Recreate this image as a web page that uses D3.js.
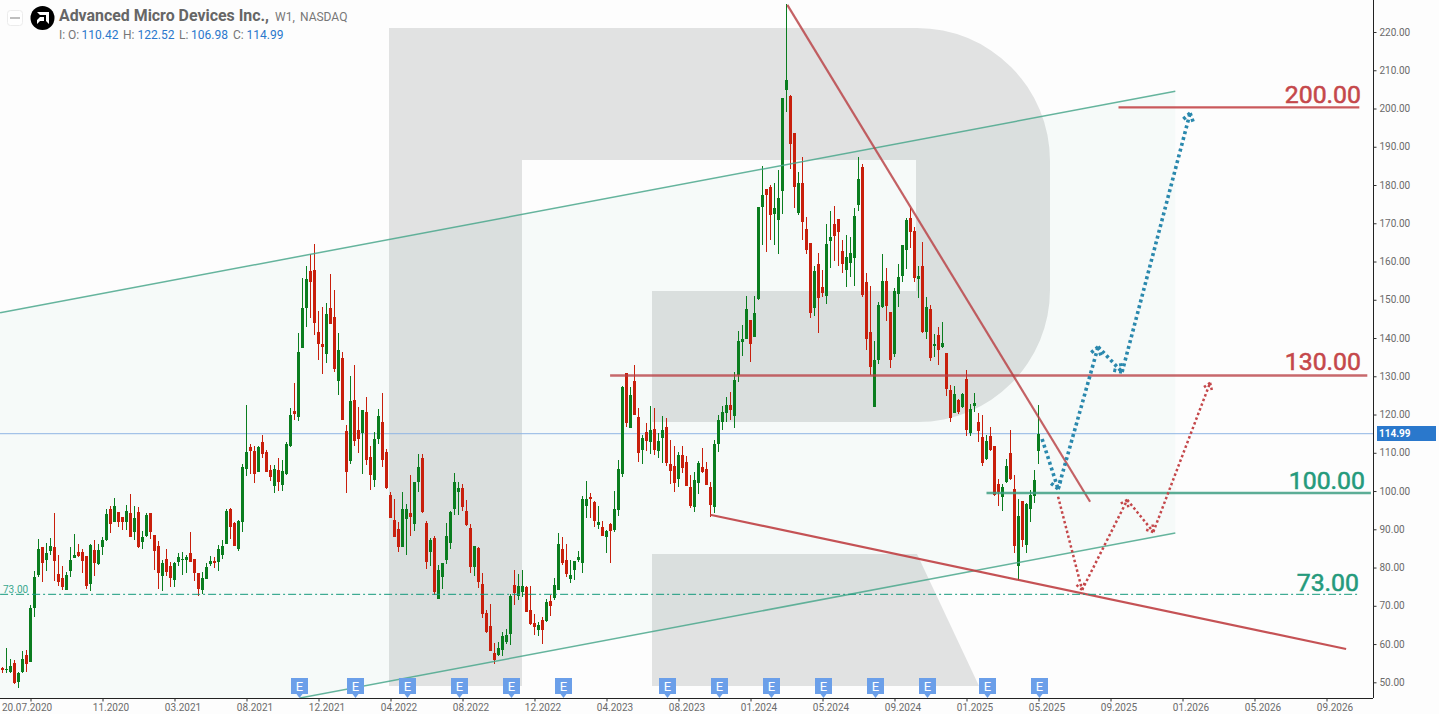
<!DOCTYPE html>
<html><head><meta charset="utf-8">
<script src="https://cdnjs.cloudflare.com/ajax/libs/d3/7.8.5/d3.min.js"></script>
<style>
html,body{margin:0;padding:0;background:#fdfdfd;overflow:hidden}
svg{display:block;font-family:Roboto,"Liberation Sans",sans-serif}
</style></head><body><div id="chart"></div>
<script>
// Weekly OHLC, AMD, one value per candle
const opens=[53.8,53.4,52.6,55.0,50.2,52.7,57.2,55.2,69.3,78.1,
85.4,82.0,84.4,85.4,78.3,77.3,74.2,79.0,82.6,84.1,
84.1,83.0,75.8,84.6,81.0,85.5,87.2,95.2,92.0,94.5,
93.1,92.0,94.3,89.3,94.6,86.7,88.3,94.3,88.6,85.7,
77.8,82.3,80.5,76.8,81.5,82.1,82.0,83.9,82.3,78.6,
74.2,77.1,81.0,81.8,81.5,83.3,86.2,95.4,91.7,84.9,
92.0,105.8,111.6,110.5,105.0,112.9,110.2,105.5,101.4,105.5,
101.6,104.5,111.8,121.0,119.4,137.4,147.9,157.6,157.8,141.6,
138.5,135.9,147.9,145.5,128.8,134.8,115.7,107.9,123.8,116.0,
115.2,120.7,108.9,102.9,113.7,118.1,110.2,99.0,92.5,90.1,
85.4,92.7,94.3,91.4,102.4,108.7,91.7,84.1,87.7,71.8,
77.6,82.0,86.5,95.4,99.8,100.8,94.8,90.4,80.2,85.2,
75.8,68.2,64.8,57.7,57.2,58.5,60.6,62.7,75.5,72.6,
73.7,75.0,69.0,65.6,63.7,66.3,66.1,71.3,72.1,74.2,
84.9,82.0,77.1,79.4,82.0,81.2,96.1,98.5,97.2,91.2,
90.6,88.0,91.4,89.9,95.1,104.5,130.9,116.5,128.8,119.4,
110.8,115.5,112.9,116.3,110.5,113.9,116.8,107.1,106.6,103.2,
109.5,107.6,101.1,95.9,102.1,106.3,105.8,101.1,95.9,112.3,
118.1,120.4,122.5,119.7,130.4,139.0,139.8,144.8,140.3,150.3,
174.3,179.0,179.5,172.5,170.9,178.5,204.9,203.3,193.6,172.7,
180.6,168.5,164.9,147.9,159.4,153.4,151.0,165.4,169.9,171.2,
162.8,157.8,159.7,161.0,174.8,184.7,154.7,141.6,122.0,134.3,
148.2,155.0,146.9,135.9,151.6,156.3,163.1,171.4,168.0,155.5,
158.9,141.6,147.6,138.0,140.9,137.7,136.1,126.4,120.4,123.8,
122.0,129.3,115.2,122.3,118.1,114.2,108.4,114.4,111.8,101.9,
98.5,102.4,110.0,100.6,80.5,97.4,85.9,95.3,98.7,110.42];
const highs=[54.1,58.9,56.0,55.7,52.8,58.2,58.5,70.1,79.1,87.5,
85.4,86.4,87.7,94.3,83.2,80.4,78.9,85.4,88.8,86.2,
84.8,83.0,86.2,87.1,86.2,87.9,95.4,96.0,98.2,94.5,
93.1,96.3,99.2,96.1,95.9,89.5,94.3,94.3,88.6,87.0,
82.0,84.9,81.5,81.5,83.9,84.1,83.3,89.3,82.3,78.6,
78.9,81.2,83.1,82.8,85.9,87.3,95.4,95.6,92.0,92.5,
107.1,122.5,112.3,111.8,111.8,114.7,110.8,106.8,106.8,108.7,
108.2,112.9,121.7,128.3,141.4,155.7,158.9,162.0,164.6,147.1,
148.1,149.2,156.8,152.6,141.4,136.4,117.3,130.1,133.0,122.0,
121.2,124.6,111.8,115.5,121.5,125.7,111.0,99.8,97.9,91.9,
99.8,96.6,104.2,102.4,109.7,109.7,92.2,87.7,88.3,80.7,
81.2,91.7,94.8,104.8,102.4,101.9,97.7,91.4,85.7,85.4,
78.6,69.0,70.5,60.3,60.6,63.2,64.0,73.1,79.4,78.4,
79.4,75.2,75.2,67.9,65.8,67.1,71.8,72.9,77.3,89.1,
88.0,86.2,82.0,81.8,84.4,98.7,102.7,99.5,97.4,96.1,
92.2,89.9,91.7,100.1,108.2,127.5,130.9,127.2,133.0,121.7,
114.7,117.8,122.3,121.7,115.2,119.7,119.1,113.4,111.8,110.2,
111.8,109.2,104.2,105.0,107.9,111.3,107.6,102.4,113.4,119.9,
122.3,124.6,125.9,131.1,141.9,143.5,151.0,144.8,151.0,174.3,
185.0,179.0,180.0,180.6,184.0,202.8,227.3,203.6,193.6,183.4,
187.4,171.7,164.9,158.9,162.3,157.8,169.9,173.3,174.6,171.2,
165.7,167.0,166.5,174.0,187.4,185.5,157.0,153.7,139.3,149.5,
162.0,158.4,146.9,153.1,159.4,164.4,171.4,174.0,169.1,158.9,
165.2,150.8,148.7,141.1,142.9,144.2,136.1,127.7,127.5,124.1,
125.7,131.7,122.8,125.7,120.4,119.9,114.7,116.8,111.8,103.2,
101.9,108.4,116.0,104.2,98.0,97.4,96.9,100.3,105.5,122.52];
const lows=[52.4,52.4,52.4,49.6,48.6,52.4,52.6,55.2,67.2,77.4,
76.3,79.2,83.3,76.5,75.2,74.0,74.0,77.6,82.6,82.7,
78.7,74.4,73.9,77.8,80.6,83.4,87.0,89.1,91.8,90.7,
89.7,89.7,88.1,87.3,85.2,84.9,88.0,87.5,79.4,74.4,
73.9,77.8,75.0,75.0,80.5,78.1,78.6,81.5,76.5,72.6,
73.1,77.1,80.5,79.9,79.2,82.3,86.2,87.5,85.7,84.4,
89.3,104.0,104.5,102.1,105.0,108.7,105.0,102.7,99.5,100.1,
100.1,104.2,111.6,118.6,118.4,137.4,142.9,145.3,140.8,134.3,
130.6,133.5,143.7,131.2,125.2,118.6,99.5,107.1,111.8,110.0,
104.5,106.9,100.3,101.1,112.3,106.3,100.6,93.0,88.0,84.1,
85.4,83.3,88.3,89.6,99.8,94.3,79.6,80.4,72.9,71.8,
74.4,81.0,84.9,93.8,93.8,94.8,90.9,78.6,77.8,74.7,
66.9,63.0,58.2,54.9,56.9,56.9,60.1,59.8,70.3,71.6,
72.4,68.4,65.0,62.4,62.2,60.1,65.8,67.4,71.6,74.2,
80.7,77.6,76.0,76.8,81.5,78.6,93.0,93.0,90.6,90.1,
88.3,83.9,81.2,89.3,93.5,103.7,116.8,116.5,119.9,107.6,
107.1,110.5,109.7,109.5,108.7,107.4,106.6,101.9,99.8,101.1,
104.8,101.4,95.6,94.6,99.3,104.8,101.6,93.3,94.3,110.2,
116.0,118.1,118.6,116.5,128.4,135.4,139.8,133.8,140.3,150.0,
164.4,162.5,165.7,164.4,162.0,172.5,199.1,184.2,174.0,172.2,
165.7,162.0,145.3,145.8,141.4,150.8,149.0,158.4,160.2,158.9,
157.0,153.4,156.0,153.7,173.3,150.8,136.9,130.4,122.0,133.3,
147.9,144.5,132.2,135.1,148.2,154.7,158.1,163.6,154.7,150.5,
141.4,139.8,134.1,135.1,133.0,137.5,124.9,118.1,120.4,120.2,
121.7,114.4,114.4,120.7,112.9,106.6,108.1,110.5,98.7,96.1,
94.8,102.1,102.9,83.8,76.8,85.4,83.8,91.9,96.9,106.98];
const closes=[53.1,53.5,54.3,49.9,52.4,56.1,54.9,69.5,77.6,84.9,
81.3,83.9,85.6,81.8,76.3,74.8,78.1,82.0,83.3,83.1,
81.8,75.3,85.9,81.3,84.6,87.2,94.0,91.4,96.1,91.8,
91.8,94.8,88.1,93.0,85.3,88.0,93.8,89.3,84.4,78.5,
81.2,78.9,77.3,81.2,82.8,82.3,82.8,81.5,78.6,74.4,
77.3,80.2,81.8,81.2,84.9,85.7,94.8,90.6,85.7,92.2,
106.3,110.2,110.5,104.5,111.6,109.7,105.0,103.7,105.8,102.4,
105.3,112.3,119.9,120.2,136.4,147.9,155.5,154.7,144.0,138.5,
137.7,146.3,143.7,131.9,136.9,118.6,105.0,123.6,113.1,113.7,
121.2,108.2,104.2,113.7,119.7,108.2,100.8,93.0,88.0,85.4,
95.3,95.3,93.2,102.4,106.3,94.5,81.5,87.2,73.6,79.4,
81.2,88.3,94.6,102.4,100.8,95.9,91.2,80.2,85.7,76.3,
67.9,63.2,58.2,55.9,59.0,62.2,62.4,72.6,73.4,75.2,
75.2,68.4,65.3,64.5,65.0,63.7,71.1,70.0,75.5,86.2,
81.2,78.4,78.1,81.8,82.8,98.0,98.0,98.0,92.2,92.0,
88.3,89.6,89.6,95.4,105.8,127.2,117.8,125.1,119.9,110.0,
113.9,113.1,116.0,110.8,113.1,116.0,107.4,105.3,102.1,109.5,
106.1,101.4,96.1,102.9,107.4,105.0,101.6,96.4,112.3,118.6,
120.7,122.5,121.2,129.1,139.3,139.8,147.6,138.5,146.6,174.3,
177.4,177.4,172.2,174.0,176.6,202.8,207.5,190.8,179.5,180.6,
170.4,163.1,146.6,157.6,150.5,151.8,164.6,166.5,166.7,167.8,
159.4,161.2,162.3,171.9,181.6,151.3,139.8,132.5,134.3,148.7,
155.0,148.4,134.3,152.3,156.0,164.4,170.9,167.8,155.7,156.3,
141.6,148.2,134.8,138.5,136.9,138.8,126.7,119.1,125.4,120.7,
125.4,116.0,121.5,123.0,115.7,107.4,113.1,110.8,99.0,99.8,
101.1,106.6,103.2,85.7,93.5,87.2,96.7,99.0,102.9,114.99];

const priceTicks=d3.range(50,221,10);
const dateLabels=["20.07.2020","11.2020","03.2021","08.2021","12.2021","04.2022","08.2022","12.2022","04.2023","08.2023","01.2024","05.2024","09.2024","01.2025","05.2025","09.2025","01.2026","05.2026","09.2026"];
const dateTickIdx=dateLabels.map((d,k)=>7+18*k);
const earningsIdx=[74,88,101,114,127,140,166,179,192,205,218,231,246,259];
const channelTop=[[-0.6,146.6],[293.2,204.5]];
const channelBottom=[[74.4,45.9],[293.2,89.05]];
const wedgeUpper=[[196.2,227.1],[271.9,97.2]];
const wedgeLower=[[176.9,93.8],[335.9,58.7]];
const level200=[[279,200.3],[339.2,200.3]];
const level130=[[151.9,130.2],[341.2,130.2]];
const level100=[[246,99.5],[342.1,99.5]];
const level73=[[-0.6,73],[339.2,73]];
const bluePath=[[259.9,113.6],[263.9,100.55],[273.9,137.7],[279.9,131.1],[296.9,198.8]];
const redPath=[[263.9,98.5],[269.9,74.15],[281.2,97.7],[287.7,89.3],[301.9,128.3]];
const lastClose=114.99;

const W=1439,H=714,plotR=1373,plotB=698;
const x=d3.scaleLinear().domain([0,342]).range([2.5,2.5+4*342]);
const y=d3.scaleLinear().domain([50,220]).range([682.3,32]);
const svg=d3.select("#chart").append("svg").attr("width",W).attr("height",H);
svg.append("rect").attr("width",W).attr("height",H).attr("fill","#fdfdfd");
const defs=svg.append("defs");
defs.append("clipPath").attr("id","plot").append("rect").attr("width",plotR).attr("height",plotB);
const plot=svg.append("g").attr("clip-path","url(#plot)");

// watermark logo
plot.append("path").attr("fill","#e1e2e2")
 .attr("d","M389,28H917A133,133 0 0 1 1050,161V290A132,132 0 0 1 918,422H652V291H916V160H522V686H389Z");
plot.append("path").attr("fill","#e1e2e2").attr("d","M652,554H917L979,686H652Z");

// channel fill
const P=p=>[x(p[0]),y(p[1])];
const tA=P(channelTop[0]),tB=P(channelTop[1]),bA=P(channelBottom[0]),bB=P(channelBottom[1]);
plot.append("polygon").attr("fill","rgb(30,160,120)").attr("fill-opacity",0.03)
 .attr("points",[tA,tB,bB,bA,[0,plotB]].join(" "));

// last price line
plot.append("line").attr("x1",0).attr("x2",plotR).attr("y1",y(lastClose)).attr("y2",y(lastClose))
 .attr("stroke","#8fb6e4").attr("stroke-width",1);

// candles
const idx=d3.range(opens.length);
const col=i=>closes[i]>=opens[i]?"#0a7d1f":"#c81f0c";
const cg=plot.append("g").attr("shape-rendering","crispEdges");
cg.selectAll("rect.w").data(idx).join("rect").attr("class","w")
 .attr("x",i=>x(i)-0.5).attr("width",1)
 .attr("y",i=>Math.round(y(highs[i])))
 .attr("height",i=>Math.max(1,Math.round(y(lows[i]))-Math.round(y(highs[i]))))
 .attr("fill",col);
cg.selectAll("rect.b").data(idx).join("rect").attr("class","b")
 .attr("x",i=>x(i)-1.5).attr("width",3)
 .attr("y",i=>Math.round(y(Math.max(opens[i],closes[i]))))
 .attr("height",i=>Math.max(1,Math.round(y(Math.min(opens[i],closes[i])))-Math.round(y(Math.max(opens[i],closes[i])))))
 .attr("fill",col);

// trend lines & levels
const seg=(pts,stroke,w,op)=>plot.append("line")
 .attr("x1",x(pts[0][0])).attr("y1",y(pts[0][1])).attr("x2",x(pts[1][0])).attr("y2",y(pts[1][1]))
 .attr("stroke",stroke).attr("stroke-width",w).attr("stroke-opacity",op);
seg(channelTop,"#4aa78c",1.5,0.85);
seg(channelBottom,"#4aa78c",1.5,0.85);
seg(wedgeUpper,"#b83f43",2.2,0.82);
seg(wedgeLower,"#bf3f43",2.2,0.9);
seg(level200,"#c4474a",2.2,0.9);
seg(level130,"#b83f43",2.4,0.78);
seg(level100,"#3f9f84",2.6,0.85);
seg(level73,"#159a7c",1,1).attr("stroke-dasharray","8,3,2,3");

// dotted forecast arrows
function arrows(pts,stroke,w,dash,headLen){
  const lg=d3.line();
  for(let k=0;k<pts.length-1;k++){
    const a=P(pts[k]),b=P(pts[k+1]);
    plot.append("path").attr("d",lg([a,b])).attr("fill","none")
      .attr("stroke",stroke).attr("stroke-width",w).attr("stroke-dasharray",dash);
    const ang=Math.atan2(b[1]-a[1],b[0]-a[0]);
    [2.55,-2.55].forEach(d=>{
      const e=[b[0]+headLen*Math.cos(ang+d),b[1]+headLen*Math.sin(ang+d)];
      plot.append("path").attr("d",lg([b,e])).attr("fill","none")
        .attr("stroke",stroke).attr("stroke-width",w).attr("stroke-dasharray",dash);
    });
  }
}
arrows(redPath,"#c4474a",2.5,"2.5,2.5",8);
arrows(bluePath,"#2a88ad",3.6,"3,3",9);

// level labels
const lbl=(t,xr,base,c)=>svg.append("text").text(t).attr("x",xr).attr("y",base)
 .attr("text-anchor","end").attr("font-size",24.8).attr("fill",c)
 .attr("stroke",c).attr("stroke-width",0.55);
lbl("200.00",1361,103,"#c5484b");
lbl("130.00",1361,370,"#c5484b");
lbl("100.00",1365,489,"#259a7c");
lbl("73.00",1359,591,"#259a7c");
svg.append("text").text("73.00").attr("x",3).attr("y",593).attr("font-size",10).attr("fill","#3aa88f");

// earnings flags
const eg=svg.append("g").selectAll("g").data(earningsIdx).join("g").attr("transform",d=>`translate(${x(d)+1},0)`);
eg.append("path").attr("d","M-8.5,678H8.5V694H3L0,698L-3,694H-8.5Z").attr("fill","#6b9fe9");
eg.append("text").text("E").attr("y",691).attr("text-anchor","middle").attr("font-size",13).attr("fill","#fff");

// axes
const yAxis=d3.axisRight(y).tickValues(priceTicks).tickFormat(d3.format(".2f")).tickSize(3).tickPadding(3);
const ya=svg.append("g").attr("transform",`translate(${plotR+0.5},0)`).call(yAxis);
ya.select(".domain").attr("d",`M0,0V${plotB}`).attr("stroke","#222");
ya.selectAll(".tick line").attr("stroke","#333");
ya.selectAll("text").attr("font-size",10).attr("font-family","Roboto").attr("fill","#6b6b6b");
const xAxis=d3.axisBottom(x).tickValues(dateTickIdx).tickFormat((d,k)=>dateLabels[k]).tickSize(3).tickPadding(2);
const xa=svg.append("g").attr("transform",`translate(0,${plotB+0.5})`).call(xAxis);
xa.select(".domain").attr("d",`M0,0H${plotR}`).attr("stroke","#222");
xa.selectAll(".tick line").attr("stroke","#333");
xa.selectAll("text").attr("font-size",10).attr("font-family","Roboto").attr("fill","#6b6b6b")
 .attr("dx",(d,k)=>k===0?-4:8);

// price badge
svg.append("rect").attr("x",1377).attr("y",426).attr("width",59).attr("height",15).attr("fill","#2a78cc");
svg.append("text").text(lastClose.toFixed(2)).attr("x",1379).attr("y",437).attr("font-size",10).attr("font-weight",700).attr("fill","#fff");

// header
svg.append("rect").attr("x",7.5).attr("y",10.5).attr("width",15).attr("height",15).attr("rx",3).attr("fill","#fff").attr("stroke","#ececec");
svg.append("line").attr("x1",10).attr("x2",20).attr("y1",18).attr("y2",18).attr("stroke","#aaa").attr("stroke-width",1.5);
svg.append("circle").attr("cx",42.5).attr("cy",18).attr("r",12).attr("fill","#000");
svg.append("path").attr("fill","#fff").attr("d","M37,12H49V24L46,21V15H40ZM40,17H44V21H40L37,24V20Z");
const t=(s,xx,yy,fs,c,fw)=>svg.append("text").text(s).attr("x",xx).attr("y",yy).attr("font-size",fs).attr("fill",c).attr("font-weight",fw||400);
t("Advanced Micro Devices Inc.,",59,20.5,15.9,"#666",700);
t("W1,",275,20.5,12,"#777");
t("NASDAQ",300,20.5,12,"#777");
[["I:",59],["O:",68],["H:",123],["L:",179],["C:",233]].forEach(d=>t(d[0],d[1],39,12,"#777"));
[[opens[259],81.5],[highs[259],137.5],[lows[259],191],[closes[259],246.5]].forEach(d=>t(d[0].toFixed(2),d[1],39,12,"#2a78cc"));
</script></body></html>
